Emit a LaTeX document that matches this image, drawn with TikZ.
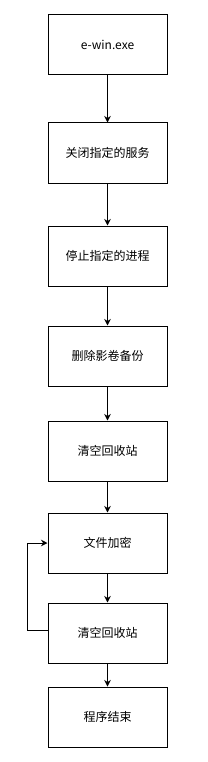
\documentclass[tikz,border=0pt]{standalone}
\usepackage{fontspec}
\setmainfont{Noto Sans CJK SC}
\usetikzlibrary{arrows.meta}

\begin{document}
\begin{tikzpicture}[x=1pt, y=-1pt,
    stepbox/.style={draw=black, line width=1pt, minimum width=119pt,
        minimum height=60pt, inner sep=0pt, font=\fontsize{12}{14}\selectfont},
    flow/.style={draw=black, line width=1pt, -{Stealth[length=6.5pt, width=6.5pt]}}]

    % ==========================================
    % 1. CANVAS
    % ==========================================
    \useasboundingbox[fill=white] (0,0) rectangle (208,762);

    % ==========================================
    % 2. PROCESS STEPS
    % ==========================================
    \node[stepbox] (exe)     at (107.5, 45)  {e-win.exe};
    \node[stepbox] (svc)     at (107.5, 153) {关闭指定的服务};
    \node[stepbox] (proc)    at (107.5, 256) {停止指定的进程};
    \node[stepbox] (shadow)  at (107.5, 356) {删除影卷备份};
    \node[stepbox] (binA)    at (107.5, 451) {清空回收站};
    \node[stepbox] (encrypt) at (107.5, 543) {文件加密};
    \node[stepbox] (binB)    at (107.5, 633) {清空回收站};
    \node[stepbox] (done)    at (107.5, 717) {程序结束};

    % ==========================================
    % 3. CONNECTORS
    % ==========================================
    \draw[flow] (exe) -- (svc);
    \draw[flow] (svc) -- (proc);
    \draw[flow] (proc) -- (shadow);
    \draw[flow] (shadow) -- (binA);
    \draw[flow] (binA) -- (encrypt);
    \draw[flow] (encrypt) -- (binB);
    \draw[flow] (binB) -- (done);

    % Loop back from the second bin step to encryption
    \coordinate (loopL) at (27, 630);
    \draw[flow] ([yshift=3pt]binB.west) -- (loopL) |- (encrypt.west);

\end{tikzpicture}
\end{document}
